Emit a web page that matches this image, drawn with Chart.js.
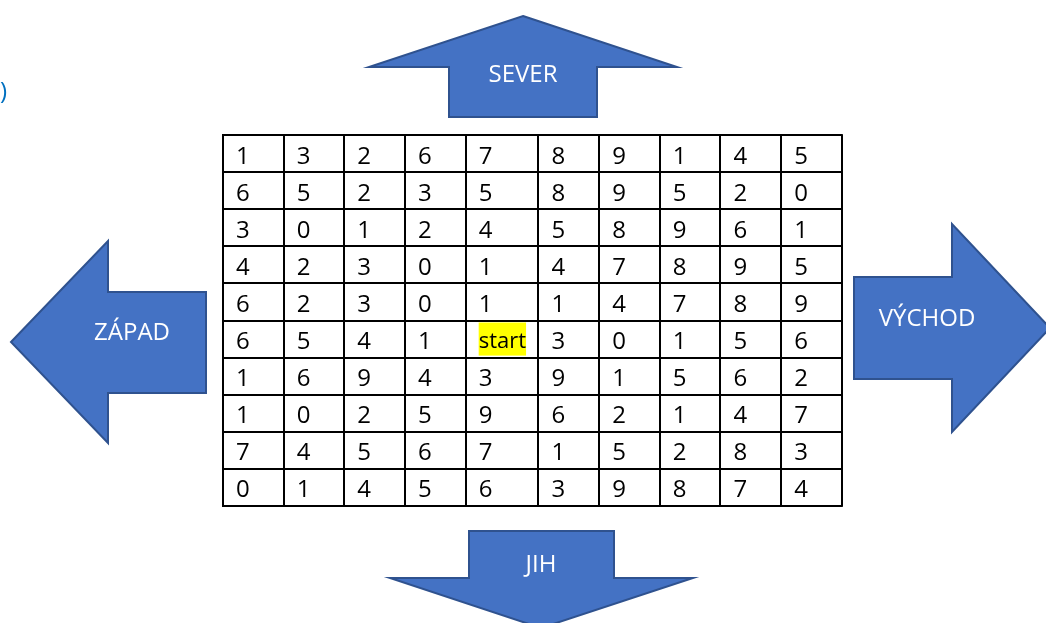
<!DOCTYPE html>
<html>
<head>
<meta charset="utf-8">
<script src="https://cdn.jsdelivr.net/npm/chart.js@4"></script>
<style>
  html, body { margin: 0; padding: 0; background: #fff; }
  canvas { display: block; }
</style>
</head>
<body>
<canvas id="grid" width="1046" height="623"></canvas>
<script>
// values of the grid, row by row (top to bottom)
const rows = [
    [1, 3, 2, 6, 7, 8, 9, 1, 4, 5],
    [6, 5, 2, 3, 5, 8, 9, 5, 2, 0],
    [3, 0, 1, 2, 4, 5, 8, 9, 6, 1],
    [4, 2, 3, 0, 1, 4, 7, 8, 9, 5],
    [6, 2, 3, 0, 1, 1, 4, 7, 8, 9],
    [6, 5, 4, 1, 'start', 3, 0, 1, 5, 6],
    [1, 6, 9, 4, 3, 9, 1, 5, 6, 2],
    [1, 0, 2, 5, 9, 6, 2, 1, 4, 7],
    [7, 4, 5, 6, 7, 1, 5, 2, 8, 3],
    [0, 1, 4, 5, 6, 3, 9, 8, 7, 4]
];
const startLabel = 'start';
const directions = ['SEVER', 'JIH', 'ZÁPAD', 'VÝCHOD'];
const sideNote = ')';

// layout: column widths in scale units (the start column is a bit wider)
const colWidths = [1, 1, 1, 1, 1.2, 1, 1, 1, 1, 1];
const colEdges = [0];
colWidths.forEach(w => colEdges.push(colEdges[colEdges.length - 1] + w));

const cellFont = '24px "Open Sans"';
const startFont = '22px "Open Sans"';
const arrowFont = '24px "Open Sans"';
const arrowFill = '#4472C4';
const arrowStroke = '#2F528F';

// one point per cell, placed at the cell's left edge / row middle
const cellPoints = [];
rows.forEach((row, r) => {
    row.forEach((v, c) => {
        cellPoints.push({ x: colEdges[c], y: r + 0.5, label: v });
    });
});

// arrows (pixel outlines) with their label positions
const arrows = [
    { text: directions[0], tx: 523, ty: 82,
      pts: [[523,16],[677,67],[597,67],[597,117],[449,117],[449,67],[369,67]] },
    { text: directions[1], tx: 541, ty: 572,
      pts: [[469,531],[614,531],[614,578],[693,578],[541,628],[390,578],[469,578]] },
    { text: directions[2], tx: 132, ty: 340,
      pts: [[11,342],[108,241],[108,292],[206,292],[206,393],[108,393],[108,443]] },
    { text: directions[3], tx: 927, ty: 326,
      pts: [[854,277],[952,277],[952,224],[1050,328],[952,432],[952,379],[854,379]] }
];

const tablePlugin = {
    id: 'tablePlugin',
    afterDatasetsDraw(chart) {
        const ctx = chart.ctx;
        const xs = chart.scales.x, ys = chart.scales.y;
        const rowPx = ys.getPixelForValue(1) - ys.getPixelForValue(0);

        ctx.save();
        // arrows
        arrows.forEach(a => {
            ctx.beginPath();
            a.pts.forEach((p, i) => i ? ctx.lineTo(p[0], p[1]) : ctx.moveTo(p[0], p[1]));
            ctx.closePath();
            ctx.fillStyle = arrowFill;
            ctx.fill();
            ctx.lineWidth = 2;
            ctx.strokeStyle = arrowStroke;
            ctx.stroke();
            ctx.fillStyle = '#fff';
            ctx.font = arrowFont;
            ctx.textAlign = 'center';
            ctx.textBaseline = 'alphabetic';
            ctx.fillText(a.text, a.tx, a.ty);
        });

        // side note
        ctx.fillStyle = '#0070C0';
        ctx.font = '24px "Open Sans"';
        ctx.textAlign = 'left';
        ctx.fillText(sideNote, 0, 99);

        // cell texts
        const meta = chart.getDatasetMeta(0);
        ctx.textAlign = 'left';
        ctx.textBaseline = 'alphabetic';
        meta.data.forEach((el, i) => {
            const label = String(cellPoints[i].label);
            const x = el.x + 13;
            const base = el.y + rowPx * 0.27;
            if (label === startLabel) {
                ctx.font = startFont;
                const w = ctx.measureText(label).width;
                ctx.fillStyle = '#FFFF00';
                ctx.fillRect(x, el.y - rowPx / 2 + 2, w, rowPx - 4);
                ctx.fillStyle = '#000';
                ctx.fillText(label, x, el.y + rowPx * 0.25);
                return;
            }
            ctx.font = cellFont;
            ctx.fillStyle = '#000';
            ctx.fillText(label, x, base);
        });

        // grid lines
        ctx.strokeStyle = '#000';
        ctx.lineWidth = 2;
        const top = ys.getPixelForValue(0), bottom = ys.getPixelForValue(rows.length);
        const left = xs.getPixelForValue(0), right = xs.getPixelForValue(colEdges[colEdges.length - 1]);
        ctx.beginPath();
        colEdges.forEach(e => {
            const x = Math.round(xs.getPixelForValue(e));
            ctx.moveTo(x, top);
            ctx.lineTo(x, bottom);
        });
        for (let r = 0; r <= rows.length; r++) {
            const y = Math.round(ys.getPixelForValue(r));
            ctx.moveTo(left - 1, y);
            ctx.lineTo(right + 1, y);
        }
        ctx.stroke();
        ctx.restore();
    }
};

const colPx = 60.67, rowPxRef = 37.1, tableLeft = 223, tableTop = 135;

new Chart(document.getElementById('grid'), {
    type: 'scatter',
    data: {
        datasets: [{
            data: cellPoints,
            pointRadius: 0,
            pointHoverRadius: 0
        }]
    },
    options: {
        responsive: false,
        animation: false,
        devicePixelRatio: 1,
        layout: { padding: 0 },
        events: [],
        plugins: { legend: { display: false }, tooltip: { enabled: false } },
        scales: {
            x: {
                type: 'linear', display: false,
                min: -tableLeft / colPx,
                max: (1046 - tableLeft) / colPx
            },
            y: {
                type: 'linear', display: false, reverse: true,
                min: -tableTop / rowPxRef,
                max: (623 - tableTop) / rowPxRef
            }
        }
    },
    plugins: [tablePlugin]
});
</script>
</body>
</html>
